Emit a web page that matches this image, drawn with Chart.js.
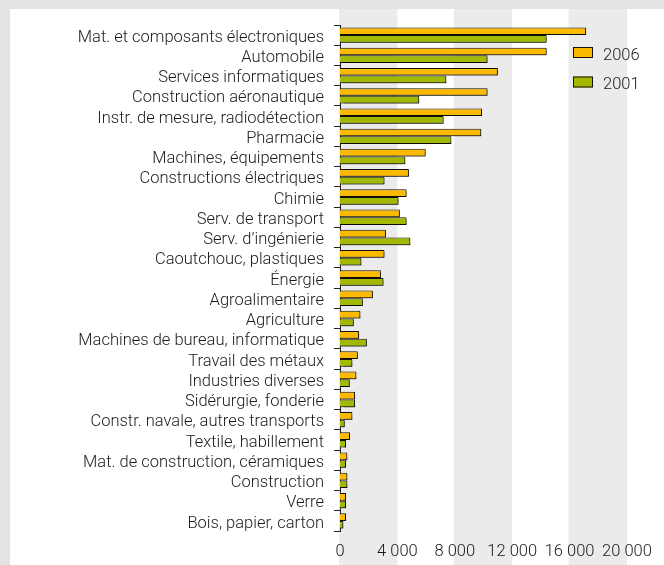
<!DOCTYPE html>
<html lang="fr">
<head>
<meta charset="utf-8">
<title>Secteurs 2001–2006</title>
<script src="https://cdn.jsdelivr.net/npm/chart.js@4/dist/chart.umd.min.js"></script>
<style>
  html, body { margin: 0; padding: 0; }
  body { width: 664px; height: 565px; background: #e2e3e2; position: relative; overflow: hidden; }
  #panel { position: absolute; left: 10px; top: 9px; width: 654px; height: 556px; background: #ffffff; }
</style>
</head>
<body>
<div id="panel"><canvas id="chart"></canvas></div>
<script>
const categories = [
  "Mat. et composants électroniques",
  "Automobile",
  "Services informatiques",
  "Construction aéronautique",
  "Instr. de mesure, radiodétection",
  "Pharmacie",
  "Machines, équipements",
  "Constructions électriques",
  "Chimie",
  "Serv. de transport",
  "Serv. d’ingénierie",
  "Caoutchouc, plastiques",
  "Énergie",
  "Agroalimentaire",
  "Agriculture",
  "Machines de bureau, informatique",
  "Travail des métaux",
  "Industries diverses",
  "Sidérurgie, fonderie",
  "Constr. navale, autres transports",
  "Textile, habillement",
  "Mat. de construction, céramiques",
  "Construction",
  "Verre",
  "Bois, papier, carton"
];

const values2006 = [17150, 14400, 11000, 10280, 9900, 9840, 5970, 4800, 4640, 4170, 3200, 3100, 2850, 2290, 1420, 1330, 1240, 1140, 1050, 860, 700, 510, 510, 420, 420];
const values2001 = [14400, 10280, 7410, 5520, 7220, 7760, 4550, 3100, 4080, 4640, 4900, 1490, 3030, 1590, 960, 1870, 860, 680, 1050, 330, 420, 420, 510, 420, 230];

const seriesLabels = ["2006", "2001"];
const xTicks = [0, 4000, 8000, 12000, 16000, 20000];

const FONT = "Roboto, 'Liberation Sans', sans-serif";
const FONT_SIZE = 16.5;
const ORANGE = "#fbba00";
const GREEN = "#a3b800";
const BAND = "#ebebeb";

function fmt(v) {
  return String(v).replace(/\B(?=(\d{3})+(?!\d))/g, " ");
}

// Alternating vertical bands behind the plot, every other 4 000 step
const bandPlugin = {
  id: "bands",
  beforeDraw(chart) {
    const { ctx, scales: { x } } = chart;
    ctx.save();
    ctx.fillStyle = BAND;
    for (let i = 0; i + 1 < xTicks.length; i += 2) {
      const x0 = x.getPixelForValue(xTicks[i]) - 1;
      const x1 = x.getPixelForValue(xTicks[i + 1]);
      ctx.fillRect(x0, 0, x1 - x0, chart.height);
    }
    ctx.restore();
  }
};

// Soft drop shadow under the bars
const shadowPlugin = {
  id: "barShadow",
  beforeDatasetsDraw(chart) {
    const ctx = chart.ctx;
    ctx.save();
    ctx.shadowColor = "rgba(0,0,0,0.45)";
    ctx.shadowOffsetX = 1.5;
    ctx.shadowOffsetY = 1.5;
    ctx.shadowBlur = 1;
  },
  afterDatasetsDraw(chart) {
    chart.ctx.restore();
  }
};

// Legend drawn inside the plot area, at the top right
const insideLegend = {
  id: "insideLegend",
  afterDraw(chart) {
    const { ctx, chartArea } = chart;
    const left = chartArea.right - 54;
    let y = chartArea.top + 27.5;
    ctx.save();
    chart.data.datasets.forEach(ds => {
      ctx.fillStyle = ds.backgroundColor;
      ctx.fillRect(left, y - 5.5, 20, 11);
      ctx.strokeStyle = "#111";
      ctx.lineWidth = 1;
      ctx.strokeRect(left + 0.5, y - 5, 19, 10);
      ctx.fillStyle = "#1a1a1a";
      ctx.font = "300 " + FONT_SIZE + "px " + FONT;
      ctx.textBaseline = "middle";
      ctx.fillText(ds.label, left + 30, y + 3);
      y += 29.5;
    });
    ctx.restore();
  }
};

new Chart(document.getElementById("chart"), {
  type: "bar",
  data: {
    labels: categories,
    datasets: [
      { label: seriesLabels[0], data: values2006, backgroundColor: ORANGE, borderColor: "#111", borderWidth: 1 },
      { label: seriesLabels[1], data: values2001, backgroundColor: GREEN, borderColor: "#111", borderWidth: 1 }
    ]
  },
  options: {
    indexAxis: "y",
    responsive: true,
    maintainAspectRatio: false,
    animation: false,
    categoryPercentage: 0.76,
    barPercentage: 1.0,
    layout: { padding: { left: 0, top: 16, right: 37, bottom: 0 } },
    plugins: {
      legend: { display: false },
      tooltip: { enabled: false }
    },
    scales: {
      x: {
        type: "linear",
        min: 0,
        max: 20000,
        afterFit(s) { s.height = 34; s.paddingLeft = 0; s.paddingRight = 0; },
        afterBuildTicks(s) { s.ticks = xTicks.map(v => ({ value: v })); },
        grid: { display: false, drawTicks: false },
        border: { display: false },
        ticks: {
          padding: 11,
          color: "#1a1a1a",
          font: { family: FONT, size: FONT_SIZE, weight: 300 },
          callback: v => fmt(v),
          maxRotation: 0
        }
      },
      y: {
        afterFit(s) { s.width = 330; s.paddingTop = 0; s.paddingBottom = 0; },
        grid: {
          offset: true,
          drawOnChartArea: false,
          drawTicks: true,
          tickLength: 6,
          color: "#222",
          lineWidth: 1
        },
        border: { display: true, color: "#222", width: 1 },
        ticks: {
          padding: 10,
          labelOffset: 2.5,
          color: "#1a1a1a",
          autoSkip: false,
          font: { family: FONT, size: FONT_SIZE, weight: 300 }
        }
      }
    }
  },
  plugins: [bandPlugin, shadowPlugin, insideLegend]
});
</script>
</body>
</html>
